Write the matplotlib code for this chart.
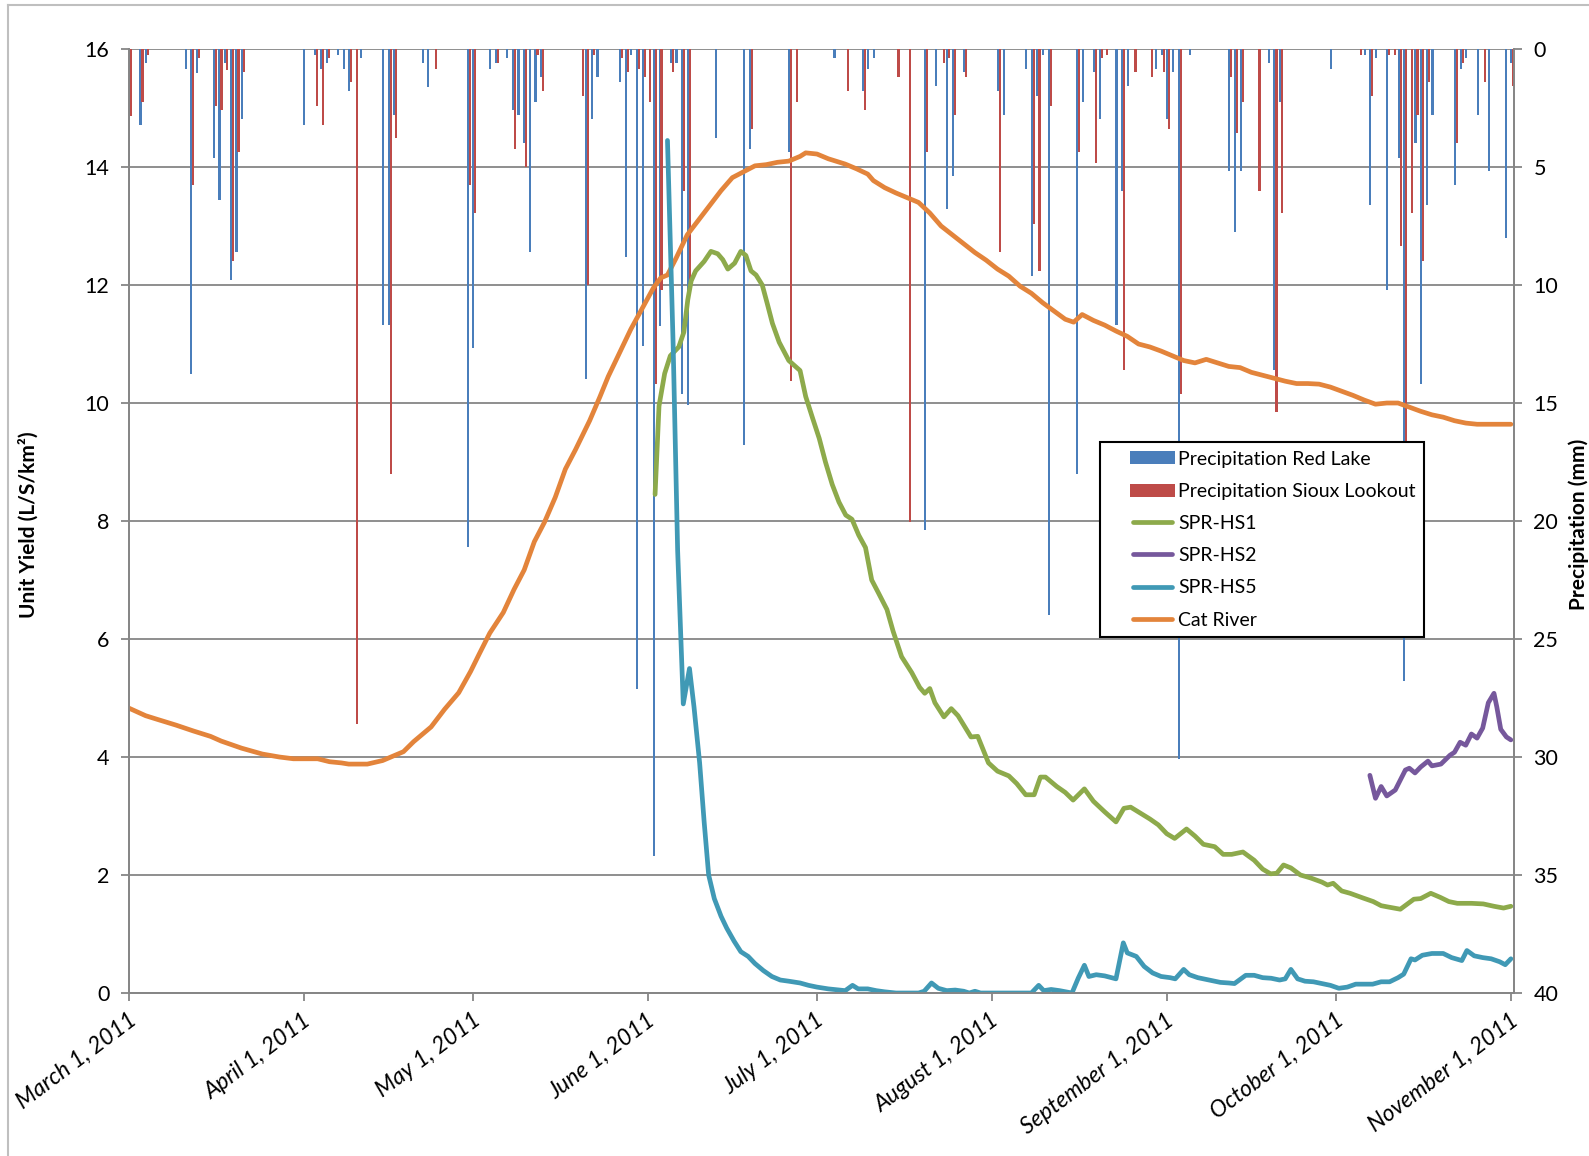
import numpy as np
import pandas as pd
import matplotlib
matplotlib.use("Agg")
import matplotlib.pyplot as plt
import matplotlib.transforms as mtransforms
from matplotlib.patches import Patch, Rectangle
from matplotlib.lines import Line2D
from matplotlib.legend_handler import HandlerBase

#  Daten (Tage seit 1. März 2011)
start = pd.Timestamp("2011-03-01")

cat_days = [0, 3, 5, 8.4, 11.5, 14.5, 16.4, 20, 23.7, 26.7, 29.2, 33.5, 35.6, 37.7, 39, 42.3,
            45, 48.7, 50.5, 53.6, 56, 58.5, 60.6, 62.1, 64, 66.4, 68.3, 70.1, 71.9, 73.7, 75.6,
            77.4, 79.2, 81.7, 83.5, 85, 87, 89, 91, 93, 94.3, 95.5, 97, 99, 101, 103, 105, 107,
            109, 111, 113, 115, 117, 119, 120, 122, 124, 127, 129, 131, 132, 134, 136, 138, 140,
            142, 144, 146, 148, 150, 152, 154, 156, 158, 160, 162, 164, 166, 167.5, 169, 171,
            173, 175, 177, 179, 181, 183, 185, 187, 189, 191, 193, 195, 197, 199, 201, 203, 205,
            207, 209, 211, 213, 215, 217, 219, 221, 223, 225, 227, 229, 231, 233, 235, 237, 239,
            245]
cat_vals = [4.83, 4.7, 4.64, 4.54, 4.44, 4.35, 4.27, 4.15, 4.05, 4.0, 3.97, 3.97, 3.92, 3.9,
            3.88, 3.88, 3.94, 4.09, 4.26, 4.51, 4.81, 5.09, 5.45, 5.74, 6.1, 6.45, 6.84, 7.17,
            7.65, 7.98, 8.4, 8.88, 9.21, 9.7, 10.1, 10.45, 10.85, 11.25, 11.6, 11.95, 12.12,
            12.17, 12.45, 12.85, 13.10, 13.35, 13.60, 13.82, 13.92, 14.02, 14.04, 14.08, 14.10,
            14.18, 14.24, 14.22, 14.14, 14.05, 13.97, 13.88, 13.77, 13.65, 13.56, 13.48, 13.40,
            13.22, 13.00, 12.85, 12.70, 12.55, 12.42, 12.27, 12.15, 11.98, 11.86, 11.70, 11.56,
            11.42, 11.37, 11.50, 11.40, 11.32, 11.22, 11.13, 11.00, 10.95, 10.88, 10.80, 10.72,
            10.68, 10.74, 10.68, 10.62, 10.60, 10.52, 10.47, 10.42, 10.37, 10.33, 10.33, 10.32,
            10.27, 10.20, 10.13, 10.05, 9.98, 10.00, 10.00, 9.93, 9.86, 9.80, 9.76, 9.70, 9.66,
            9.64, 9.64]

hs1_days = [93.3, 94, 95, 96, 97.5, 98.4, 99.1, 99.7, 100.5, 102, 103.2, 104.4, 105.3, 106.2,
            107.4, 108.5, 109.4, 110.3, 111.2, 112.3, 113.2, 114.1, 115.3, 117, 119, 120,
            121.2, 122.4, 123.5, 124.7, 125.9, 127.1, 128.2, 129.4, 130.6, 131.7, 132.9, 134.4,
            135.5, 137, 138.8, 140.2, 141.1, 142, 142.9, 144.5, 145.8, 147, 149.3, 150.5, 152.4,
            154, 156, 157.4, 159, 160.5, 161.6, 162.5, 164.5, 166, 167.4, 169.4, 171, 173, 175,
            176.4, 177.6, 179.3, 181, 182.5, 184, 185.4, 187.5, 189, 190.5, 192.5, 194, 195.5,
            197.5, 199.5, 201, 202.4, 203.5, 204.7, 206, 207.7, 209.5, 211.5, 212.5, 213.5, 215,
            216.5, 218.8, 220.6, 222, 223.1, 225.4, 227.8, 229, 230.8, 232.5, 234, 235.5, 238,
            240.1, 242, 243.7, 245]
hs1_vals = [8.45, 9.95, 10.5, 10.8, 10.95, 11.2, 11.75, 12.07, 12.24, 12.4, 12.57, 12.53, 12.43,
            12.27, 12.37, 12.57, 12.5, 12.24, 12.17, 12.0, 11.68, 11.35, 11.03, 10.72, 10.55,
            10.11, 9.75, 9.4, 9.0, 8.62, 8.32, 8.1, 8.03, 7.76, 7.55, 7.0, 6.78, 6.5, 6.13, 5.7,
            5.43, 5.18, 5.08, 5.16, 4.92, 4.68, 4.82, 4.7, 4.34, 4.35, 3.9, 3.76, 3.68, 3.55,
            3.36, 3.36, 3.66, 3.66, 3.5, 3.4, 3.27, 3.46, 3.25, 3.07, 2.9, 3.13, 3.15, 3.05, 2.95,
            2.85, 2.7, 2.62, 2.78, 2.66, 2.52, 2.48, 2.35, 2.35, 2.39, 2.25, 2.1, 2.02, 2.03,
            2.17, 2.12, 2.0, 1.95, 1.88, 1.83, 1.86, 1.73, 1.69, 1.61, 1.55, 1.48, 1.46, 1.42,
            1.59, 1.6, 1.69, 1.62, 1.55, 1.52, 1.52, 1.51, 1.47, 1.44, 1.47]

hs2_days = [220, 221, 222, 223, 224.5, 226.3, 227, 228, 229, 230.3, 231, 232.6, 234.2, 235,
            236, 237, 238, 239, 240, 241, 242, 242.5, 243.2, 244.2, 245]
hs2_vals = [3.69, 3.3, 3.5, 3.34, 3.44, 3.78, 3.81, 3.73, 3.83, 3.93, 3.85, 3.88, 4.03, 4.08,
            4.25, 4.2, 4.39, 4.32, 4.49, 4.92, 5.08, 4.85, 4.47, 4.34, 4.29]

hs5_days = [95.5, 96.5, 97.3, 98.3, 99.4, 100.2, 101.2, 102, 102.8, 103.8, 105, 106, 107.3,
            108.5, 109.8, 111, 112.5, 114, 115.5, 117, 119, 120.5, 122, 124, 126, 127, 128.3,
            129.3, 131, 132.5, 134, 136, 140, 141, 142.3, 143.5, 145, 146.5, 148, 149, 150, 151,
            160, 161.3, 162.2, 163.5, 165, 167.2, 168.3, 169.4, 170.2, 171.5, 173, 175, 176.3,
            177, 178.6, 180, 181.5, 183, 184.6, 185.5, 187, 188, 189.5, 191.5, 193.5, 195, 196,
            198, 199.5, 201, 202.5, 204, 205, 206, 207.2, 208.5, 210, 211.5, 213, 214.5, 216,
            217.5, 219, 220.5, 222, 223.5, 225, 226, 227.3, 228, 229.3, 231, 233, 234.5, 236.3,
            237.2, 238.5, 240, 241.5, 243, 244, 245]
hs5_vals = [14.45, 11.0, 7.5, 4.9, 5.5, 4.85, 3.9, 2.9, 2.0, 1.6, 1.3, 1.1, 0.88, 0.7, 0.62,
            0.5, 0.38, 0.28, 0.22, 0.2, 0.17, 0.13, 0.1, 0.07, 0.05, 0.04, 0.13, 0.07, 0.07,
            0.04, 0.02, 0.0, 0.0, 0.03, 0.17, 0.08, 0.04, 0.05, 0.03, 0.0, 0.03, 0.0, 0.0, 0.13,
            0.04, 0.06, 0.04, 0.0, 0.25, 0.47, 0.28, 0.31, 0.29, 0.24, 0.85, 0.68, 0.62, 0.45,
            0.34, 0.28, 0.26, 0.24, 0.4, 0.31, 0.26, 0.22, 0.18, 0.17, 0.16, 0.3, 0.3, 0.26,
            0.25, 0.22, 0.24, 0.4, 0.24, 0.2, 0.19, 0.16, 0.13, 0.08, 0.1, 0.15, 0.15, 0.15,
            0.19, 0.19, 0.26, 0.32, 0.58, 0.56, 0.64, 0.67, 0.67, 0.6, 0.55, 0.72, 0.63, 0.6,
            0.58, 0.53, 0.48, 0.58]

# Niederschlag (mm)
redlake_days = [0, 2, 3, 10, 11, 12, 15, 16, 17, 18, 19, 20, 31, 33, 34, 35, 37, 38, 39, 41,
                45, 46, 47, 52, 53, 60, 61, 64, 65, 67, 68, 69, 70, 71, 72, 73, 81, 82, 83, 87,
                88, 89, 90, 91, 93, 94, 96, 97, 98, 99, 104, 109, 110, 117, 125, 130, 131, 132,
                141, 143, 145, 146, 148, 154, 155, 159, 160, 161, 162, 163, 168, 169, 171, 172,
                175, 176, 177, 182, 183, 184, 185, 186, 188, 195, 196, 197, 202, 203, 204, 213,
                219, 220, 221, 223, 225, 226, 228, 229, 230, 231, 235, 236, 237, 239, 241, 244,
                245]
redlake_mm = [6.6, 3.2, 0.6, 0.83, 13.76, 1.0, 4.6, 6.4, 0.6, 9.8, 8.6, 2.97, 3.2, 0.24, 0.83,
              0.6, 0.24, 0.83, 1.8, 0.38, 11.7, 11.7, 2.8, 0.6, 1.6, 21.1, 12.67, 0.83, 0.6,
              0.38, 2.6, 2.8, 4.0, 8.6, 2.25, 1.2, 14.0, 2.97, 1.2, 1.4, 8.8, 0.24, 27.1, 12.6,
              34.2, 11.75, 0.6, 0.6, 14.6, 15.1, 3.77, 16.8, 4.24, 4.38, 0.38, 1.8, 0.83, 0.38,
              20.4, 1.55, 6.8, 5.4, 0.97, 1.8, 2.8, 0.83, 9.6, 2.0, 0.24, 24.0, 18.0, 2.25, 0.97,
              2.97, 11.7, 6.0, 1.55, 0.83, 0.24, 2.97, 0.97, 30.1, 0.24, 5.18, 7.77, 5.18, 0.6,
              13.6, 2.25, 0.83, 0.24, 6.6, 0.38, 10.2, 4.6, 26.8, 4.0, 14.2, 6.6, 2.8, 5.78,
              0.83, 0.38, 2.8, 5.18, 8.0, 0.6]

sioux_days = [0, 2, 3, 11, 12, 15, 16, 17, 18, 19, 20, 33, 34, 35, 39, 40, 46, 47, 54, 60, 61,
              65, 68, 70, 72, 73, 80, 81, 82, 87, 88, 90, 91, 92, 93, 94, 96, 98, 99, 110, 117,
              118, 127, 130, 136, 138, 141, 144, 145, 146, 148, 154, 160, 161, 163, 168, 171,
              172, 173, 176, 178, 181, 183, 184, 186, 195, 196, 197, 200, 203, 204, 218, 220,
              223, 224, 225, 226, 227, 228, 229, 230, 235, 236, 240, 245]
sioux_mm = [2.82, 2.25, 0.24, 5.78, 0.4, 2.4, 2.6, 0.9, 8.97, 4.38, 0.97, 2.4, 3.2, 0.38, 1.4,
            28.6, 18.0, 3.77, 0.83, 5.78, 6.95, 0.6, 4.24, 5.0, 0.24, 1.8, 2.0, 10.0, 0.24, 0.38,
            0.97, 0.83, 1.2, 2.25, 14.2, 10.2, 0.97, 6.0, 9.8, 3.4, 14.06, 2.25, 1.8, 2.6, 1.2,
            20.06, 4.38, 0.6, 0.38, 2.8, 1.2, 8.6, 7.4, 9.4, 2.4, 4.38, 4.83, 0.38, 0.24, 13.6,
            0.97, 1.2, 0.97, 3.4, 14.6, 1.2, 3.56, 2.25, 6.0, 15.4, 6.95, 0.24, 2.0, 0.24, 0.24,
            8.36, 17.5, 6.95, 2.8, 8.97, 1.4, 4.0, 0.6, 1.4, 1.55]

tick_labels = ["March 1, 2011", "April 1, 2011", "May 1, 2011", "June 1, 2011", "July 1, 2011",
               "August 1, 2011", "September 1, 2011", "October 1, 2011", "November 1, 2011"]

#  Farben / Stil
blau = "#4A7EBB"
rot = "#BE4B48"
gruen = "#8DAA4B"
lila = "#76589C"
tuerkis = "#4099B5"
orange = "#E3843B"
grau = "#868686"


class Einzug(HandlerBase):
    # Legendensymbol nur im rechten Teil des Platzes zeichnen (wie Excel)
    def __init__(self, anteil):
        super().__init__()
        self.anteil = anteil

    def create_artists(self, legend, orig_handle, xdescent, ydescent, width, height,
                       fontsize, trans):
        x0 = -xdescent + width * self.anteil
        x1 = -xdescent + width
        if isinstance(orig_handle, Patch):
            r = Rectangle((x0, -ydescent), x1 - x0, height,
                          facecolor=orig_handle.get_facecolor(), edgecolor="none",
                          transform=trans)
            return [r]
        y = -ydescent + height / 2
        ln = Line2D([x0 + 2, x1 - 2], [y, y], color=orig_handle.get_color(),
                    lw=orig_handle.get_linewidth(), solid_capstyle="round", transform=trans)
        return [ln]


plt.rcParams["font.family"] = ["Lato", "DejaVu Sans"]

fig = plt.figure(figsize=(15.89, 11.56), dpi=100)
ax = fig.add_axes([0.081, 0.141, 0.8718, 0.8166])
ax2 = ax.twinx()

# Balken auf rechter Achse (hängen von oben)
ax2.bar(np.array(redlake_days) + 0.1, redlake_mm, width=0.38, color=blau, linewidth=0)
ax2.bar(np.array(sioux_days) + 0.45, sioux_mm, width=0.38, color=rot, linewidth=0)
ax2.set_ylim(40, 0)
ax2.set_yticks(range(0, 41, 5))
ax2.grid(axis="y", color=grau, linewidth=1.3)
ax2.set_axisbelow(True)

# Linien auf linker Achse
lw = 3.4
for xs, ys, c in [(cat_days, cat_vals, orange), (hs1_days, hs1_vals, gruen),
                  (hs5_days, hs5_vals, tuerkis), (hs2_days, hs2_vals, lila)]:
    ax.plot(xs, ys, color=c, lw=lw, solid_capstyle="round", solid_joinstyle="round")
ax.set_zorder(ax2.get_zorder() + 1)
ax.patch.set_visible(False)

ax.set_ylim(0, 16)
ax.set_yticks(range(0, 17, 2))
ax.set_xlim(0, 245.55)

tick_pos = [(pd.Timestamp(t) - start).days for t in tick_labels]
ax.set_xticks(tick_pos)
ax.tick_params(axis="x", labelbottom=False)
# Datumsbeschriftung schräg, Ende knapp rechts unter dem Tick
verschiebung = mtransforms.ScaledTranslation(5 / 100, -25 / 100, fig.dpi_scale_trans)
for pos, txt in zip(tick_pos, tick_labels):
    ax.text(pos, 0, txt, transform=ax.get_xaxis_transform() + verschiebung,
            rotation=37, rotation_mode="anchor", ha="right", va="center",
            fontstyle="italic", fontsize=16.5)

for a in (ax, ax2):
    a.spines["top"].set_visible(False)
    for s in ("left", "right", "bottom"):
        a.spines[s].set_color(grau)
        a.spines[s].set_linewidth(1.3)
    a.tick_params(colors=grau, labelcolor="black", length=6, width=1.3, labelsize=15.5)
ax.tick_params(axis="y", pad=8)
ax2.tick_params(axis="y", pad=8)

fig.text(28.5 / 1589, 0.546, "Unit Yield (L/S/km²)", rotation=90, ha="center", va="center",
         fontsize=15, fontweight="bold")
fig.text(1568 / 1589, 0.546, "Precipitation (mm)", rotation=90, ha="left", va="center",
         fontsize=15, fontweight="bold")

# Rahmen des Diagrammbereichs
fig.add_artist(Line2D([8 / 1589, 8 / 1589], [0, 1 - 5 / 1156], transform=fig.transFigure,
                      color="#BFBFBF", lw=1.5))
fig.add_artist(Line2D([8 / 1589, 1], [1 - 5 / 1156, 1 - 5 / 1156], transform=fig.transFigure,
                      color="#BFBFBF", lw=1.5))

handles = [Patch(facecolor=blau), Patch(facecolor=rot),
           Line2D([], [], color=gruen, lw=lw), Line2D([], [], color=lila, lw=lw),
           Line2D([], [], color=tuerkis, lw=lw), Line2D([], [], color=orange, lw=lw)]
labels = ["Precipitation Red Lake", "Precipitation Sioux Lookout", "SPR-HS1", "SPR-HS2",
          "SPR-HS5", "Cat River"]
einzug = Einzug(0.32)
leg = ax.legend(handles, labels, loc="upper left", bbox_to_anchor=(0.6925, 0.6176),
                bbox_transform=fig.transFigure, fontsize=14, frameon=True, fancybox=False,
                edgecolor="black", framealpha=1, handlelength=3.4, handleheight=0.65,
                handletextpad=0.15, labelspacing=0.78, borderpad=0.45, borderaxespad=0,
                handler_map={Patch: einzug, Line2D: einzug})
leg.get_frame().set_linewidth(1.5)

fig.savefig("out.png", dpi=100)
